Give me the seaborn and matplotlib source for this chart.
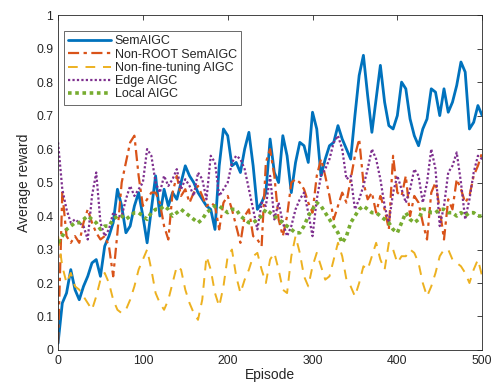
import numpy as np
import pandas as pd
import seaborn as sns
import matplotlib.pyplot as plt

episodes = list(range(0, 501, 5))

sem_aigc = [0.02, 0.14, 0.17, 0.24, 0.18, 0.15, 0.19, 0.22, 0.26, 0.27,
            0.22, 0.31, 0.34, 0.38, 0.48, 0.43, 0.35, 0.37, 0.43, 0.47,
            0.40, 0.32, 0.42, 0.52, 0.40, 0.48, 0.43, 0.47, 0.45, 0.50,
            0.55, 0.52, 0.50, 0.47, 0.45, 0.43, 0.42, 0.36, 0.55, 0.66,
            0.64, 0.55, 0.56, 0.53, 0.60, 0.65, 0.55, 0.42, 0.44, 0.47,
            0.63, 0.53, 0.50, 0.64, 0.58, 0.47, 0.56, 0.62, 0.61, 0.56,
            0.71, 0.66, 0.52, 0.57, 0.61, 0.62, 0.67, 0.63, 0.60, 0.57,
            0.70, 0.82, 0.88, 0.76, 0.65, 0.75, 0.85, 0.74, 0.67, 0.66,
            0.70, 0.80, 0.78, 0.69, 0.64, 0.61, 0.66, 0.69, 0.78, 0.77,
            0.70, 0.78, 0.71, 0.74, 0.79, 0.86, 0.83, 0.66, 0.68, 0.73,
            0.70]

non_root = [0.02, 0.47, 0.34, 0.32, 0.34, 0.32, 0.38, 0.42, 0.38, 0.35,
            0.33, 0.34, 0.31, 0.22, 0.35, 0.50, 0.56, 0.62, 0.64, 0.52,
            0.43, 0.45, 0.47, 0.47, 0.44, 0.37, 0.33, 0.47, 0.52, 0.46,
            0.48, 0.44, 0.47, 0.49, 0.46, 0.43, 0.44, 0.43, 0.36, 0.44,
            0.46, 0.42, 0.37, 0.32, 0.40, 0.42, 0.34, 0.33, 0.31, 0.56,
            0.60, 0.52, 0.39, 0.34, 0.40, 0.50, 0.51, 0.50, 0.48, 0.44,
            0.41, 0.52, 0.57, 0.52, 0.46, 0.39, 0.43, 0.47, 0.44, 0.51,
            0.58, 0.63, 0.50, 0.45, 0.47, 0.41, 0.46, 0.42, 0.36, 0.58,
            0.47, 0.46, 0.52, 0.40, 0.46, 0.44, 0.38, 0.33, 0.47, 0.50,
            0.42, 0.33, 0.45, 0.42, 0.51, 0.48, 0.44, 0.46, 0.52, 0.55,
            0.59]

non_finetune = [0.34, 0.25, 0.20, 0.23, 0.19, 0.18, 0.16, 0.14, 0.12, 0.16,
                0.21, 0.23, 0.20, 0.15, 0.12, 0.11, 0.12, 0.15, 0.19, 0.24,
                0.27, 0.30, 0.24, 0.17, 0.14, 0.12, 0.15, 0.20, 0.25, 0.24,
                0.18, 0.14, 0.11, 0.09, 0.15, 0.28, 0.24, 0.17, 0.13, 0.19,
                0.28, 0.30, 0.22, 0.17, 0.21, 0.24, 0.28, 0.29, 0.24, 0.20,
                0.27, 0.29, 0.24, 0.18, 0.17, 0.28, 0.34, 0.29, 0.22, 0.19,
                0.25, 0.29, 0.25, 0.21, 0.22, 0.27, 0.32, 0.28, 0.21, 0.19,
                0.16, 0.20, 0.25, 0.24, 0.28, 0.32, 0.27, 0.24, 0.32, 0.30,
                0.26, 0.28, 0.28, 0.30, 0.29, 0.26, 0.20, 0.16, 0.19, 0.23,
                0.28, 0.30, 0.30, 0.27, 0.26, 0.25, 0.23, 0.20, 0.24, 0.27,
                0.22]

edge_aigc = [0.62, 0.48, 0.42, 0.38, 0.39, 0.38, 0.37, 0.33, 0.46, 0.53,
             0.38, 0.34, 0.36, 0.41, 0.40, 0.40, 0.45, 0.49, 0.46, 0.48,
             0.50, 0.60, 0.58, 0.50, 0.47, 0.52, 0.49, 0.51, 0.54, 0.48,
             0.51, 0.49, 0.46, 0.53, 0.51, 0.45, 0.58, 0.56, 0.46, 0.48,
             0.50, 0.56, 0.58, 0.57, 0.54, 0.48, 0.42, 0.36, 0.44, 0.43,
             0.52, 0.39, 0.44, 0.38, 0.34, 0.37, 0.42, 0.45, 0.47, 0.41,
             0.34, 0.45, 0.52, 0.54, 0.57, 0.62, 0.64, 0.60, 0.51, 0.52,
             0.42, 0.45, 0.49, 0.54, 0.60, 0.57, 0.51, 0.43, 0.38, 0.47,
             0.52, 0.48, 0.44, 0.48, 0.54, 0.52, 0.44, 0.50, 0.60, 0.54,
             0.37, 0.43, 0.53, 0.55, 0.59, 0.50, 0.39, 0.45, 0.53, 0.58,
             0.57]

local_aigc = [0.32, 0.34, 0.36, 0.37, 0.38, 0.38, 0.39, 0.40, 0.39, 0.38,
              0.36, 0.37, 0.37, 0.39, 0.40, 0.40, 0.39, 0.40, 0.41, 0.41,
              0.40, 0.39, 0.41, 0.42, 0.42, 0.43, 0.42, 0.40, 0.41, 0.42,
              0.41, 0.40, 0.39, 0.38, 0.39, 0.41, 0.42, 0.43, 0.43, 0.42,
              0.41, 0.42, 0.42, 0.40, 0.39, 0.38, 0.38, 0.39, 0.40, 0.42,
              0.41, 0.40, 0.39, 0.38, 0.37, 0.36, 0.35, 0.35, 0.37, 0.40,
              0.42, 0.44, 0.43, 0.41, 0.39, 0.37, 0.35, 0.32, 0.34, 0.38,
              0.40, 0.42, 0.43, 0.42, 0.41, 0.41, 0.40, 0.39, 0.38, 0.36,
              0.35, 0.38, 0.41, 0.39, 0.38, 0.39, 0.42, 0.42, 0.41, 0.41,
              0.42, 0.42, 0.41, 0.41, 0.40, 0.41, 0.40, 0.41, 0.41, 0.40,
              0.40]

labels = ["SemAIGC", "Non-ROOT SemAIGC", "Non-fine-tuning AIGC", "Edge AIGC", "Local AIGC"]
colors = ["#0072BD", "#D95319", "#EDB120", "#7E2F8E", "#77AC30"]
styles = ["-", (0, (5, 2, 1.5, 2)), (0, (5, 4)), (0, (1, 1)), (0, (1, 1))]
widths = [2.0, 1.6, 1.4, 1.6, 2.6]

sns.set_style("white")
plt.rcParams['font.family'] = ['Liberation Sans', 'DejaVu Sans']

fig = plt.figure(figsize=(4.92, 3.88), dpi=100)
ax = fig.add_axes([0.118, 0.098, 0.862, 0.863])

series = [sem_aigc, non_root, non_finetune, edge_aigc, local_aigc]
for vals, lbl, c, ls, lw in zip(series, labels, colors, styles, widths):
    df = pd.DataFrame({"Episode": episodes, "reward": vals})
    sns.lineplot(data=df, x="Episode", y="reward", ax=ax, color=c,
                 linestyle=ls, linewidth=lw, label=lbl)

ax.set_xlim(0, 500)
ax.set_ylim(0, 1)
ax.set_xticks(range(0, 501, 100))
ax.set_yticks(np.arange(0, 1.01, 0.1))
ax.set_yticklabels(["0", "0.1", "0.2", "0.3", "0.4", "0.5", "0.6", "0.7", "0.8", "0.9", "1"])
ax.tick_params(direction="in", length=3.5, width=0.6, colors="#262626",
               labelsize=8.8, top=True, right=True)
for s in ax.spines.values():
    s.set_color("#262626")
    s.set_linewidth(0.6)
    s.set_visible(True)
ax.set_xlabel("Episode", fontsize=10, labelpad=1)
ax.set_ylabel("Average reward", fontsize=10, labelpad=4)

leg = ax.legend(loc="upper left", bbox_to_anchor=(0.008, 0.96), fontsize=9,
                frameon=True, fancybox=False, handlelength=3.4, handletextpad=0.3,
                labelspacing=0.1, borderpad=0.35, borderaxespad=0.2)
leg.get_frame().set_edgecolor("#262626")
leg.get_frame().set_linewidth(0.6)

plt.savefig("out.png", dpi=100)
